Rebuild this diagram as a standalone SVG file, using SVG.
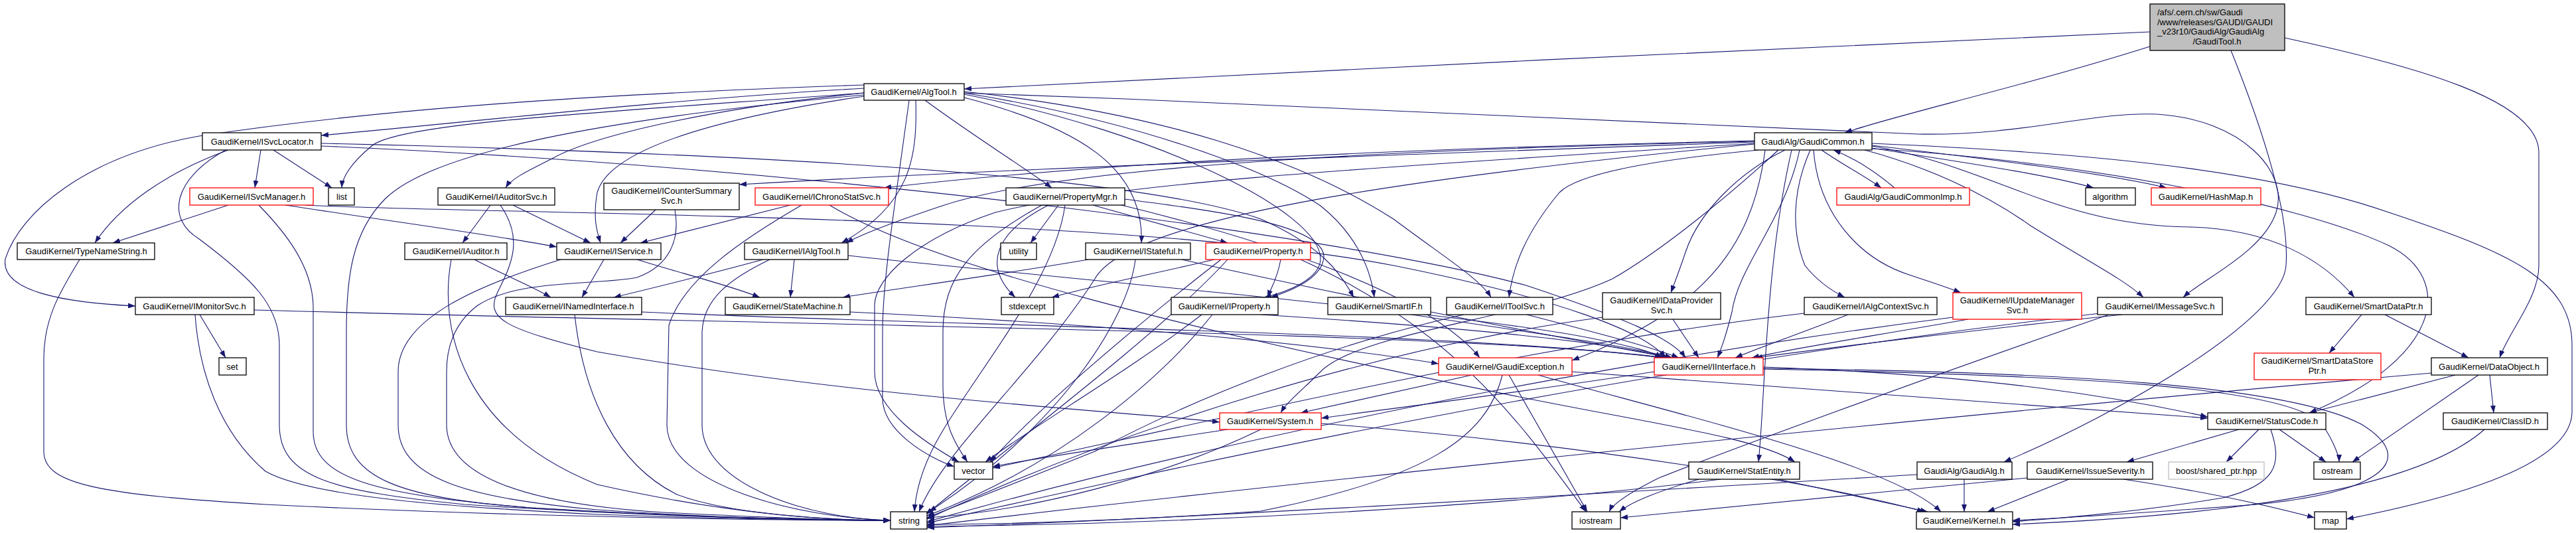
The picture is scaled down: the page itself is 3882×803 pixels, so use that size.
<svg xmlns="http://www.w3.org/2000/svg" width="3882" height="803" viewBox="0 0 3882 803">
<style>
.n rect{fill:#fff;stroke:#000;stroke-width:1.3}
.n.r rect{stroke:#f00}
.n.g rect{fill:#bfbfbf}
.n.b rect{stroke:#bfbfbf}
text{font-family:"Liberation Sans",Arial,Helvetica,sans-serif;font-size:13px;fill:#000;text-anchor:middle}
text.l{text-anchor:start}
#edges path{fill:none;stroke:#191970;stroke-width:1.1;marker-end:url(#a)}
</style>
<defs>
<marker id="a" viewBox="0 0 11 8" refX="11" refY="4" markerWidth="11" markerHeight="8" markerUnits="userSpaceOnUse" orient="auto"><path d="M0,0 L11,4 L0,8 z" fill="#191970"/></marker>
</defs>
<rect width="3882" height="803" fill="#fff"/>
<g id="edges">
<path d="M3240,48 C2700,72 2000,105 1453,134"/>
<path d="M3240,70 C3050,130 2850,175 2780,200"/>
<path d="M3362,76 C3420,220 3450,330 3445,400 C3440,480 3200,620 3020,696"/>
<path d="M3443,57 C3640,100 3826,150 3826,230 L3826,400 C3826,450 3780,500 3767,539"/>
<path d="M1302,133 C1000,150 700,185 484,204"/>
<path d="M1302,140 C900,170 600,185 560,220 C530,245 516,265 515,283"/>
<path d="M1302,128 C950,140 600,160 300,205 C130,235 30,320 8,390 C0,440 100,456 204,461"/>
<path d="M1302,140 C1100,160 900,200 830,240 C790,260 770,270 762,283"/>
<path d="M1302,145 C1100,175 920,220 900,290 C893,330 900,350 905,366"/>
<path d="M1380,151 C1383,240 1370,310 1268,366"/>
<path d="M1394,151 C1460,200 1540,250 1585,283"/>
<path d="M1453,147 C1620,190 1725,250 1720,366"/>
<path d="M1453,142 C1750,200 1990,320 1990,390 C1990,420 1940,440 1905,448"/>
<path d="M1453,140 C1700,180 1900,250 1990,310 C2040,350 2065,400 2071,448"/>
<path d="M1453,138 C1750,170 1960,240 2100,330 C2180,390 2230,420 2247,448"/>
<path d="M1453,140 C2000,160 2600,185 2890,202 C3050,205 3150,168 3250,172 C3380,180 3450,260 3430,320 C3410,380 3320,420 3290,448"/>
<path d="M1302,143 C900,180 650,230 580,300 C530,350 522,420 522,500 L522,640 C522,720 600,750 800,765 C1050,780 1250,784 1342,784"/>
<path d="M1370,151 C1350,300 1330,420 1330,500 L1330,600 C1330,650 1400,690 1438,703"/>
<path d="M2745,226 C2780,250 2810,265 2835,283"/>
<path d="M2855,283 C2830,262 2800,240 2763,226"/>
<path d="M2821,223 C2960,245 3080,262 3155,283"/>
<path d="M2821,219 C3000,240 3180,262 3265,283"/>
<path d="M2644,214 C2200,230 1600,250 1114,278"/>
<path d="M2644,212 C2200,222 1700,240 1332,283"/>
<path d="M2644,213 C2100,225 1600,250 1420,310 C1330,340 1295,355 1275,366"/>
<path d="M2650,226 C2500,240 2380,260 2350,290 C2300,350 2280,400 2274,448"/>
<path d="M2690,226 C2620,260 2560,320 2540,380 C2530,410 2522,430 2518,441"/>
<path d="M2728,226 C2700,290 2700,350 2720,400 C2740,425 2760,438 2780,448"/>
<path d="M2733,226 C2740,320 2800,390 2880,415 C2910,425 2935,433 2955,441"/>
<path d="M2810,226 C2900,250 2990,290 3060,340 C3140,390 3200,420 3230,448"/>
<path d="M2821,220 C3000,250 3100,340 3300,342 C3420,345 3500,390 3548,448"/>
<path d="M2660,226 C2640,380 2560,470 2369,543"/>
<path d="M2680,226 C2600,300 2500,380 2430,420 C2300,480 2050,500 1990,560 C1960,590 1940,605 1930,622"/>
<path d="M2821,224 C3100,240 3450,300 3600,370 C3700,420 3680,540 3480,622"/>
<path d="M2700,226 C2660,400 2660,600 2650,696"/>
<path d="M2712,226 C2690,330 2620,400 2610,470 C2600,510 2592,530 2588,539"/>
<path d="M2644,216 C2200,245 1700,270 1500,320 C1380,360 1318,420 1318,460 L1318,560 C1318,620 1400,670 1445,696"/>
<path d="M2644,217 C2100,270 1700,330 1650,420 C1560,560 1420,680 1385,771"/>
<path d="M2821,216 C3100,228 3400,250 3600,320 C3780,380 3876,420 3876,520 L3876,620 C3876,700 3700,750 3536,782"/>
<path d="M393,226 L384,283"/>
<path d="M412,226 L500,283"/>
<path d="M344,226 C250,260 180,310 143,366"/>
<path d="M340,226 C260,270 250,330 300,360 C380,420 421,460 421,520 L421,640 C421,720 500,740 700,760 C1000,780 1250,784 1342,784"/>
<path d="M484,216 C1100,230 1700,260 1900,330 C1990,370 2020,410 2040,448"/>
<path d="M484,220 C1200,250 2000,350 2300,430 C2450,480 2520,510 2540,539"/>
<path d="M344,309 L170,366"/>
<path d="M390,309 C430,350 470,400 472,460 L472,650 C472,720 560,745 800,765 C1050,780 1250,784 1342,784"/>
<path d="M430,309 C600,335 750,355 839,372"/>
<path d="M460,309 C700,322 1700,322 2100,400 C2350,450 2480,500 2510,539"/>
<path d="M739,309 L697,366"/>
<path d="M773,309 L890,366"/>
<path d="M754,309 C790,360 770,400 750,440 C730,480 760,495 900,530 C1300,600 1700,620 1838,636"/>
<path d="M988,316 L935,366"/>
<path d="M1017,316 C1025,360 1010,400 960,418 C900,430 780,420 720,460 C680,490 673,530 673,560 L673,640 C673,720 800,760 1000,772 C1200,782 1300,784 1342,784"/>
<path d="M1191,309 L965,366"/>
<path d="M1208,309 C1120,360 1030,420 1008,490 L1005,640 C1005,730 1200,780 1342,784"/>
<path d="M1250,309 C1400,400 1800,500 2300,600 C2500,640 2650,660 2705,696"/>
<path d="M715,391 C760,415 800,430 830,448"/>
<path d="M680,391 C660,500 700,650 900,730 C1100,775 1250,784 1342,784"/>
<path d="M910,391 L877,448"/>
<path d="M960,391 C1020,410 1100,430 1145,448"/>
<path d="M845,391 C720,430 600,480 600,560 L600,640 C600,720 700,750 900,768 C1100,782 1250,784 1342,784"/>
<path d="M1197,391 L1191,448"/>
<path d="M1150,391 C1080,410 1000,430 925,448"/>
<path d="M1160,391 C1100,420 1060,450 1058,500 L1058,640 C1058,730 1220,782 1342,784"/>
<path d="M1278,385 C1600,420 2200,470 2400,510 C2460,522 2490,530 2505,539"/>
<path d="M1640,391 C1500,415 1350,435 1270,448"/>
<path d="M1781,391 C2000,440 2300,500 2520,539"/>
<path d="M1711,391 C1700,480 1600,640 1400,771"/>
<path d="M1647,309 L1850,366"/>
<path d="M1595,309 L1553,366"/>
<path d="M1580,309 C1500,350 1480,400 1530,448"/>
<path d="M1570,309 C1460,370 1421,420 1421,500 L1421,580 C1421,640 1440,670 1458,696"/>
<path d="M1605,309 C1590,420 1480,550 1420,650 C1390,700 1380,740 1378,771"/>
<path d="M1695,300 C1850,320 1990,340 1995,385 C1995,420 1940,440 1915,448"/>
<path d="M1690,309 C1900,360 2150,440 2230,539"/>
<path d="M1830,391 C1750,410 1650,430 1585,448"/>
<path d="M1930,391 C1925,420 1915,435 1910,448"/>
<path d="M1850,391 C1750,500 1550,650 1395,775"/>
<path d="M1840,391 C1700,500 1560,620 1492,696"/>
<path d="M1960,391 C2200,500 2300,650 2390,771"/>
<path d="M120,391 C90,440 66,480 66,540 L66,680 C66,730 150,745 400,760 C800,780 1200,784 1342,784"/>
<path d="M301,474 L340,539"/>
<path d="M294,474 C300,560 330,650 400,710 C470,750 700,765 900,775 C1100,782 1250,784 1342,784"/>
<path d="M383,467 C1200,490 2200,500 2510,539"/>
<path d="M866,474 C880,600 930,700 1020,745 C1100,775 1250,784 1342,784"/>
<path d="M967,470 C1400,490 2200,500 2505,539"/>
<path d="M1281,470 C1700,490 2000,520 2168,548"/>
<path d="M1811,474 C1700,560 1560,640 1485,696"/>
<path d="M1827,474 C1750,570 1600,700 1397,777"/>
<path d="M1900,474 C2150,490 2400,510 2515,539"/>
<path d="M2127,474 C2300,500 2450,520 2520,539"/>
<path d="M2301,474 C2400,500 2480,520 2530,539"/>
<path d="M2206,474 C2000,520 1800,600 1650,680 C1500,740 1420,770 1397,780"/>
<path d="M2521,481 L2560,539"/>
<path d="M2415,478 C2100,520 1700,640 1397,782"/>
<path d="M2785,474 C2720,500 2660,520 2615,539"/>
<path d="M2719,472 C2300,520 1800,640 1496,705"/>
<path d="M2966,481 C2800,510 2700,525 2640,539"/>
<path d="M2943,478 C2300,560 1700,700 1397,786"/>
<path d="M3198,474 C2950,500 2750,525 2645,539"/>
<path d="M3178,474 C2900,570 2600,680 2500,720 C2450,745 2430,760 2425,771"/>
<path d="M3165,472 C2400,560 1700,720 1397,788"/>
<path d="M3559,474 L3510,532"/>
<path d="M3594,474 L3720,539"/>
<path d="M2218,565 L1960,622"/>
<path d="M2264,565 C2240,660 2150,720 1900,770 C1700,785 1500,790 1397,790"/>
<path d="M2274,565 L2392,771"/>
<path d="M2369,560 C2800,590 3200,620 3327,630"/>
<path d="M2318,565 C2550,630 2850,700 2925,771"/>
<path d="M2493,560 C2300,590 2100,615 1991,630"/>
<path d="M2657,553 C3000,565 3200,600 3327,628"/>
<path d="M2657,555 C3100,560 3450,580 3560,640 C3640,690 3600,740 3400,760 C3200,775 3080,782 3033,784"/>
<path d="M2657,556 C3100,565 3450,580 3500,640 C3520,670 3525,690 3525,696"/>
<path d="M3700,565 L3480,622"/>
<path d="M3752,565 L3758,622"/>
<path d="M3735,565 L3545,696"/>
<path d="M3664,562 C3000,620 2000,720 1397,792"/>
<path d="M1850,647 C1700,670 1560,690 1496,703"/>
<path d="M1900,647 C1750,720 1550,770 1397,780"/>
<path d="M1991,638 C2400,670 2750,730 2900,771"/>
<path d="M3374,647 L3205,696"/>
<path d="M3404,647 L3355,696"/>
<path d="M3435,647 L3505,696"/>
<path d="M3422,647 C3440,700 3430,730 3350,750 C3200,775 3080,782 3033,786"/>
<path d="M3744,647 C3650,730 3400,775 3033,790"/>
<path d="M2593,722 C2300,760 1800,790 1397,793"/>
<path d="M2560,722 C2500,740 2460,755 2440,771"/>
<path d="M2680,722 L2905,771"/>
<path d="M2960,722 L2960,771"/>
<path d="M2889,715 C2300,750 1800,780 1397,795"/>
<path d="M3118,722 L2995,771"/>
<path d="M3200,722 C3350,745 3430,765 3488,780"/>
<path d="M3055,720 C2800,745 2550,770 2442,780"/>
</g>
<g id="GaudiTool" class="n g"><rect x="3240" y="6" width="203" height="70"/><text class="l" x="3251" y="23">/afs/.cern.ch/sw/Gaudi</text><text class="l" x="3251" y="37.5">/www/releases/GAUDI/GAUDI</text><text class="l" x="3251" y="52">_v23r10/GaudiAlg/GaudiAlg</text><text x="3341" y="66.5">/GaudiTool.h</text></g>
<g id="AlgTool" class="n"><rect x="1302" y="126" width="151" height="25"/><text x="1377" y="143">GaudiKernel/AlgTool.h</text></g>
<g id="GaudiCommon" class="n"><rect x="2644" y="200" width="177" height="26"/><text x="2732" y="217.5">GaudiAlg/GaudiCommon.h</text></g>
<g id="ISvcLocator" class="n"><rect x="305" y="200" width="179" height="26"/><text x="395" y="217.5">GaudiKernel/ISvcLocator.h</text></g>
<g id="ISvcManager" class="n r"><rect x="286" y="283" width="186" height="26"/><text x="379" y="300.5">GaudiKernel/ISvcManager.h</text></g>
<g id="list" class="n"><rect x="495" y="283" width="39" height="26"/><text x="515" y="300.5">list</text></g>
<g id="IAuditorSvc" class="n"><rect x="660" y="283" width="176" height="26"/><text x="748" y="300.5">GaudiKernel/IAuditorSvc.h</text></g>
<g id="ICounterSummarySvc" class="n"><rect x="910" y="276" width="204" height="40"/><text x="1012" y="292">GaudiKernel/ICounterSummary</text><text x="1012" y="307">Svc.h</text></g>
<g id="IChronoStatSvc" class="n r"><rect x="1138" y="283" width="201" height="26"/><text x="1238" y="300.5">GaudiKernel/IChronoStatSvc.h</text></g>
<g id="PropertyMgr" class="n"><rect x="1516" y="283" width="179" height="26"/><text x="1605" y="300.5">GaudiKernel/PropertyMgr.h</text></g>
<g id="GaudiCommonImp" class="n r"><rect x="2768" y="283" width="200" height="26"/><text x="2868" y="300.5">GaudiAlg/GaudiCommonImp.h</text></g>
<g id="algorithm" class="n"><rect x="3143" y="283" width="75" height="26"/><text x="3180" y="300.5">algorithm</text></g>
<g id="HashMap" class="n r"><rect x="3242" y="283" width="165" height="26"/><text x="3324" y="300.5">GaudiKernel/HashMap.h</text></g>
<g id="TypeNameString" class="n"><rect x="26" y="366" width="207" height="25"/><text x="130" y="383">GaudiKernel/TypeNameString.h</text></g>
<g id="IAuditor" class="n"><rect x="610" y="366" width="154" height="25"/><text x="687" y="383">GaudiKernel/IAuditor.h</text></g>
<g id="IService" class="n"><rect x="839" y="366" width="157" height="25"/><text x="917" y="383">GaudiKernel/IService.h</text></g>
<g id="IAlgTool" class="n"><rect x="1122" y="366" width="156" height="25"/><text x="1200" y="383">GaudiKernel/IAlgTool.h</text></g>
<g id="utility" class="n"><rect x="1508" y="366" width="54" height="25"/><text x="1535" y="383">utility</text></g>
<g id="IStateful" class="n"><rect x="1636" y="366" width="158" height="25"/><text x="1715" y="383">GaudiKernel/IStateful.h</text></g>
<g id="Property" class="n r"><rect x="1817" y="366" width="158" height="25"/><text x="1896" y="383">GaudiKernel/Property.h</text></g>
<g id="IMonitorSvc" class="n"><rect x="204" y="448" width="179" height="26"/><text x="293" y="465.5">GaudiKernel/IMonitorSvc.h</text></g>
<g id="INamedInterface" class="n"><rect x="762" y="448" width="205" height="26"/><text x="864" y="465.5">GaudiKernel/INamedInterface.h</text></g>
<g id="StateMachine" class="n"><rect x="1093" y="448" width="188" height="26"/><text x="1187" y="465.5">GaudiKernel/StateMachine.h</text></g>
<g id="stdexcept" class="n"><rect x="1509" y="448" width="79" height="26"/><text x="1548" y="465.5">stdexcept</text></g>
<g id="IProperty" class="n"><rect x="1765" y="448" width="161" height="26"/><text x="1845" y="465.5">GaudiKernel/IProperty.h</text></g>
<g id="SmartIF" class="n"><rect x="2001" y="448" width="155" height="26"/><text x="2078" y="465.5">GaudiKernel/SmartIF.h</text></g>
<g id="IToolSvc" class="n"><rect x="2180" y="448" width="160" height="26"/><text x="2260" y="465.5">GaudiKernel/IToolSvc.h</text></g>
<g id="IDataProviderSvc" class="n"><rect x="2415" y="441" width="178" height="40"/><text x="2504" y="457">GaudiKernel/IDataProvider</text><text x="2504" y="472">Svc.h</text></g>
<g id="IAlgContextSvc" class="n"><rect x="2719" y="448" width="200" height="26"/><text x="2819" y="465.5">GaudiKernel/IAlgContextSvc.h</text></g>
<g id="IUpdateManagerSvc" class="n r"><rect x="2943" y="441" width="194" height="40"/><text x="3040" y="457">GaudiKernel/IUpdateManager</text><text x="3040" y="472">Svc.h</text></g>
<g id="IMessageSvc" class="n"><rect x="3161" y="448" width="188" height="26"/><text x="3255" y="465.5">GaudiKernel/IMessageSvc.h</text></g>
<g id="SmartDataPtr" class="n"><rect x="3475" y="448" width="189" height="26"/><text x="3569" y="465.5">GaudiKernel/SmartDataPtr.h</text></g>
<g id="set" class="n"><rect x="330" y="539" width="41" height="26"/><text x="350" y="556.5">set</text></g>
<g id="GaudiException" class="n r"><rect x="2168" y="539" width="201" height="26"/><text x="2268" y="556.5">GaudiKernel/GaudiException.h</text></g>
<g id="IInterface" class="n r"><rect x="2493" y="539" width="164" height="26"/><text x="2575" y="556.5">GaudiKernel/IInterface.h</text></g>
<g id="SmartDataStorePtr" class="n r"><rect x="3397" y="532" width="191" height="40"/><text x="3492" y="548">GaudiKernel/SmartDataStore</text><text x="3492" y="563">Ptr.h</text></g>
<g id="DataObject" class="n"><rect x="3664" y="539" width="175" height="26"/><text x="3751" y="556.5">GaudiKernel/DataObject.h</text></g>
<g id="System" class="n r"><rect x="1838" y="622" width="153" height="25"/><text x="1914" y="639">GaudiKernel/System.h</text></g>
<g id="StatusCode" class="n"><rect x="3327" y="622" width="178" height="25"/><text x="3416" y="639">GaudiKernel/StatusCode.h</text></g>
<g id="ClassID" class="n"><rect x="3682" y="622" width="157" height="25"/><text x="3760" y="639">GaudiKernel/ClassID.h</text></g>
<g id="vector" class="n"><rect x="1438" y="696" width="58" height="26"/><text x="1467" y="713.5">vector</text></g>
<g id="StatEntity" class="n"><rect x="2545" y="696" width="167" height="26"/><text x="2628" y="713.5">GaudiKernel/StatEntity.h</text></g>
<g id="GaudiAlg" class="n"><rect x="2889" y="696" width="143" height="26"/><text x="2960" y="713.5">GaudiAlg/GaudiAlg.h</text></g>
<g id="IssueSeverity" class="n"><rect x="3055" y="696" width="189" height="26"/><text x="3150" y="713.5">GaudiKernel/IssueSeverity.h</text></g>
<g id="boost_shared_ptr" class="n b"><rect x="3268" y="696" width="144" height="26"/><text x="3340" y="713.5">boost/shared_ptr.hpp</text></g>
<g id="ostream" class="n"><rect x="3487" y="696" width="70" height="26"/><text x="3522" y="713.5">ostream</text></g>
<g id="string" class="n"><rect x="1342" y="771" width="55" height="26"/><text x="1370" y="788.5">string</text></g>
<g id="iostream" class="n"><rect x="2369" y="771" width="73" height="26"/><text x="2405" y="788.5">iostream</text></g>
<g id="Kernel" class="n"><rect x="2888" y="771" width="145" height="26"/><text x="2960" y="788.5">GaudiKernel/Kernel.h</text></g>
<g id="map" class="n"><rect x="3488" y="771" width="48" height="26"/><text x="3512" y="788.5">map</text></g>
</svg>
